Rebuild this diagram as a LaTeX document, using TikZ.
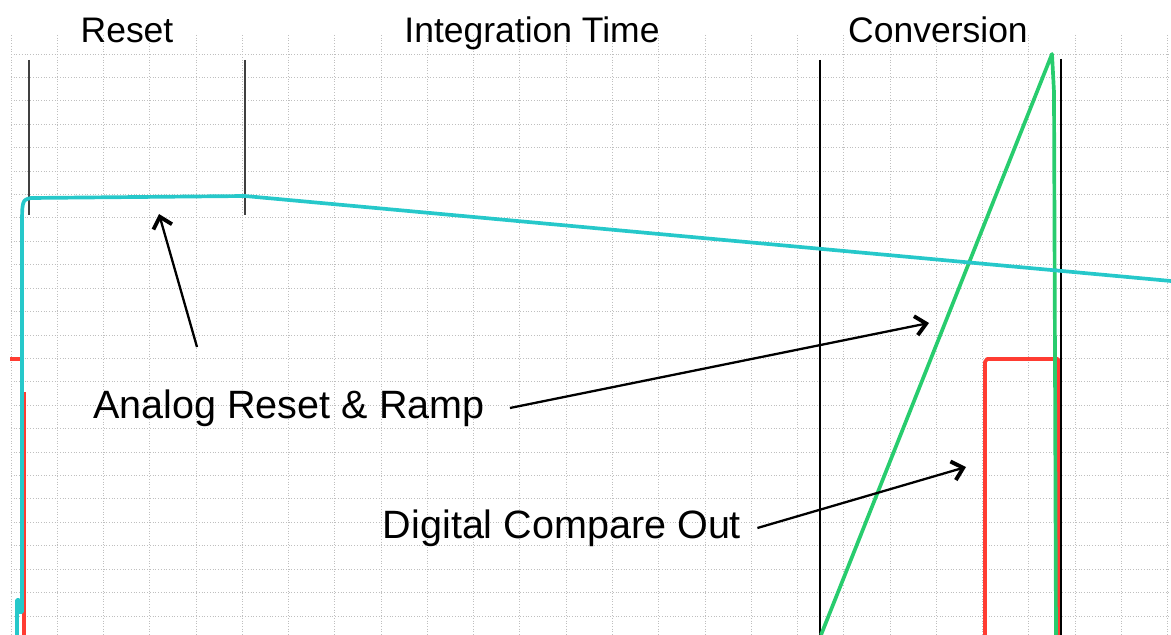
\documentclass[tikz,border=0pt]{standalone}
\usepackage{fontspec}
\setmainfont{Liberation Sans}
\usetikzlibrary{arrows.meta}

\definecolor{resetcyan}{RGB}{38,200,202}
\definecolor{rampgreen}{RGB}{40,204,110}
\definecolor{cmpred}{RGB}{255,60,50}

\begin{document}
\begin{tikzpicture}[x=0.02cm, y=-0.02cm]
    \tikzset{gridline/.style={gray!50, densely dotted, line width=0.55pt}}
    \tikzset{phase/.style={font=\fontsize{20.2}{24}\selectfont, inner sep=0pt, anchor=base}}
    \tikzset{callout/.style={font=\fontsize{22.5}{27}\selectfont, inner sep=0pt, anchor=base}}
    \tikzset{pointer/.style={line width=1.3pt, -{Straight Barb[length=6pt, width=11pt, line width=2.2pt]}}}
    \tikzset{marker/.style={black!75, line width=1.4pt}}
    \tikzset{trace/.style={line width=2.1pt, line join=round}}
    \useasboundingbox (0,0) rectangle (1171,635);
    \foreach \i in {0,...,25}
        \draw[gridline] (11+46.27*\i,35) -- (11+46.27*\i,635);
    \foreach \j in {0,...,24}
        \draw[gridline] (11,54+23.42*\j) -- (1171,54+23.42*\j);
    \draw[marker] (29,60) -- (29,215);
    \draw[marker] (245,60) -- (245,215);
    \draw[black, line width=1pt] (820,60) -- (820,635);
    \draw[black, line width=1pt] (1061,59) -- (1061,635);
    \draw[trace, cmpred] (10,359) -- (22,359);
    \draw[trace, cmpred] (24,392) -- (24,635);
    \draw[trace, cmpred] (985,635) -- (985,362) -- (987,359) -- (1058,359) -- (1058,635);
    \draw[trace, rampgreen] (821,635) -- (1052,54) -- (1054,92) -- (1056,635);
    \draw[trace, resetcyan] (17,635) -- (17,600) -- (19,600) -- (19,612) -- (22,612)
        -- (22,230) .. controls (22,200) .. (31,198) -- (245,196) -- (1171,281);
    \node[phase] (reset) at (127,43) {Reset};
    \node[phase] (integ) at (532,43) {Integration Time};
    \node[phase] (conv) at (938,43) {Conversion};
    \node[callout] (analog) at (289,418) {Analog Reset \& Ramp};
    \node[callout] (digital) at (562,538) {Digital Compare Out};
    \coordinate (flat) at (159,214);
    \coordinate (ramp) at (929,323);
    \coordinate (cmp) at (966,467);
    \coordinate (tailflat) at (197,347);
    \draw[pointer] (tailflat) -- (flat);
    \draw[pointer] ([xshift=25*0.02cm, yshift=0.2cm]analog.base east) -- (ramp);
    \draw[pointer] ([xshift=16*0.02cm, yshift=0.2cm]digital.base east) -- (cmp);
\end{tikzpicture}
\end{document}
